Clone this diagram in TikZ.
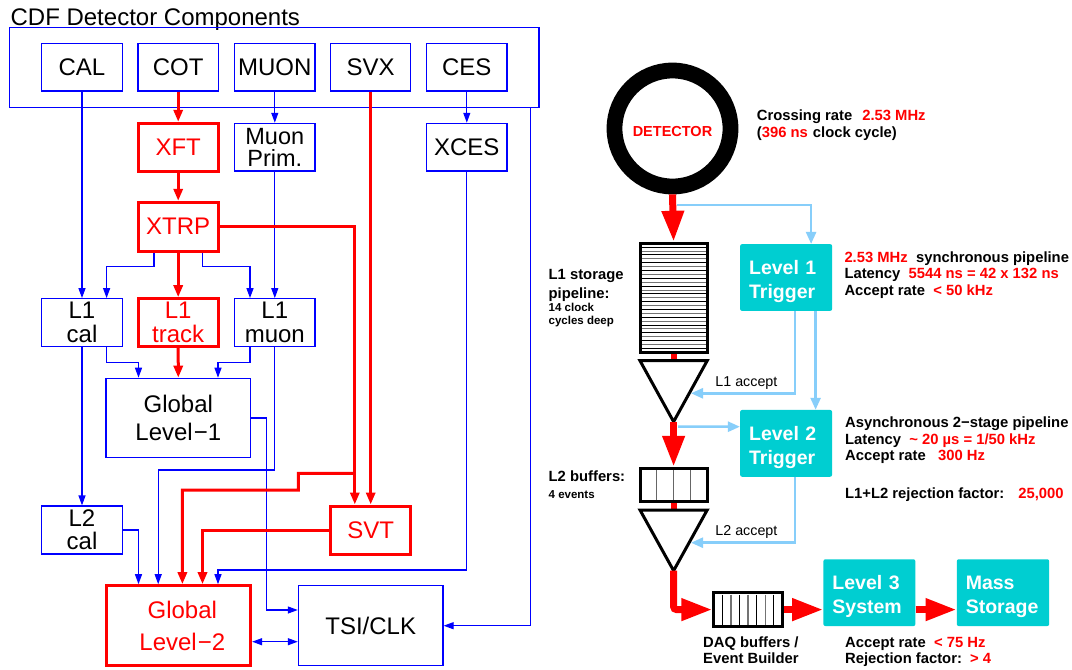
\documentclass[tikz,border=0pt]{standalone}
\usepackage{fontspec}
\setmainfont{Liberation Sans}
\usetikzlibrary{arrows.meta,calc}
\definecolor{cy}{RGB}{0,206,209}
\definecolor{lb}{RGB}{135,206,250}
\begin{document}
\begin{tikzpicture}[x=1pt,y=-1pt,
  bbox/.style={draw=blue, line width=1.2pt, minimum width=80.3pt, minimum height=47.7pt, inner sep=0pt, align=center, font=\fontsize{24}{24}\selectfont},
  rbox/.style={bbox, draw=red, line width=3pt, text=red},
  bl/.style={blue, line width=1.2pt, -{Triangle[length=10pt,width=7pt]}},
  rl/.style={red, line width=3pt, -{Triangle[length=12pt,width=9pt]}},
  lbl/.style={lb, line width=2.5pt, -{Triangle[length=12pt,width=10pt]}},
  bigred/.style={red, line width=7pt, -{Triangle[length=31pt,width=21pt]}},
  trig/.style={fill=cy, rounded corners=2pt, minimum height=66.8pt, text width=74pt, inner xsep=9pt, inner ysep=0pt, align=left, text=white, text depth=19.6pt, font=\bfseries\fontsize{19.5}{23.5}\selectfont},
  bt/.style={font=\bfseries\fontsize{14.8}{16.7}\selectfont, inner sep=0pt, anchor=base west},
  st/.style={font=\bfseries\fontsize{11.5}{12.7}\selectfont, inner sep=0pt, anchor=base west},
  nt/.style={font=\fontsize{14.3}{16}\selectfont, inner sep=0pt, anchor=base west},
  buf/.style={draw=black, line width=3pt, fill=white, inner sep=0pt},
  tri/.style={draw=black, line width=3pt, fill=white, line join=miter}
]
\useasboundingbox (0,0) rectangle (1072,670);
\fill[white] (0,0) rectangle (1072,670);

% ---------------- Left panel ----------------
\node[anchor=base west, inner sep=0pt, font=\fontsize{24}{24}\selectfont] (title) at (10.4,25) {CDF Detector Components};
\node[draw=blue, line width=1.2pt, minimum width=529.3pt, minimum height=79.6pt, inner sep=0pt] (outer) at (274.35,67.5) {};

\node[bbox] (cal)  at (82,67.2)    {CAL};
\node[bbox] (cot)  at (178.2,67.2) {COT};
\node[bbox] (muon) at (274.8,67.2) {MUON};
\node[bbox] (svx)  at (370.7,67.2) {SVX};
\node[bbox] (ces)  at (466.8,67.2) {CES};

\node[rbox] (xft)   at (178.2,147.2) {XFT};
\node[bbox, font=\fontsize{23.5}{21.5}\selectfont] (mprim) at (274.8,147.2) {Muon\\Prim.};
\node[bbox] (xces)  at (466.8,147.2) {XCES};
\node[rbox, minimum height=48.7pt] (xtrp) at (178.2,226.7) {XTRP};

\node[bbox, minimum height=48pt] (l1cal)   at (82,322.7)    {L1\\cal};
\node[rbox, minimum height=48pt] (l1track) at (178.2,322.7) {L1\\track};
\node[bbox, minimum height=48pt] (l1muon)  at (274.8,322.7) {L1\\muon};

\node[bbox, minimum width=144.6pt, minimum height=79.4pt, font=\fontsize{24}{28.3}\selectfont] (gl1) at (178.3,418) {Global\\Level\kern1pt−1};

\node[bbox, minimum height=48pt, font=\fontsize{24}{23.4}\selectfont] (l2cal) at (82,530) {L2\\cal};
\node[rbox, minimum height=48pt] (svt) at (370.7,530) {SVT};

\node[rbox, minimum width=144.6pt, minimum height=80pt, font=\fontsize{24}{31.7}\selectfont] (gl2) at (178.3,625.7) {\hspace*{8pt}Global\\\hspace*{8pt}Level\kern1pt−2};
\node[bbox, minimum width=144.6pt, minimum height=80pt] (tsi) at (370.7,625.7) {TSI/CLK};

% connectors
\draw[rl] (cot.south) -- (xft.north);
\draw[bl] (muon.south) -- (mprim.north);
\draw[bl] (ces.south) -- (xces.north);
\draw[rl] (xft.south) -- (xtrp.north);
\draw[bl] (cal.south) -- (l1cal.north);
\draw[bl] ([xshift=-24.2pt]xtrp.south) |- (106.6,266.7) -- ([xshift=24.6pt]l1cal.north);
\draw[rl] (xtrp.south) -- (l1track.north);
\draw[bl] ([xshift=24.3pt]xtrp.south) |- (250,266.7) -- ([xshift=-24.8pt]l1muon.north);
\draw[bl] (mprim.south) -- (l1muon.north);
\draw[bl] ([xshift=24.6pt]l1cal.south) |- (138.5,362.3) -- ([xshift=-39.8pt]gl1.north);
\draw[rl] (l1track.south) -- (gl1.north);
\draw[bl] ([xshift=-24.8pt]l1muon.south) |- (218,362.3) -- ([xshift=39.7pt]gl1.north);
\draw[bl] (l1cal.south) -- (l2cal.north);
\draw[bl] (l1muon.south) |- (158.2,470) -- ([xshift=-20.1pt]gl2.north);
\draw[bl] (gl1.east) -| (266.5,610) -- ([yshift=15.7pt]tsi.west);
\draw[rl] (xtrp.east) -| ([xshift=-15.9pt]svt.north);
\coordinate (br) at (354.8,473.3);
\draw[rl] (br) -- (298.4,473.3) |- (182.4,490) -- ([xshift=4.1pt]gl2.north);
\draw[rl] (svx.south) -- (svt.north);
\draw[rl] (svt.west) -| ([xshift=24.2pt]gl2.north);
\draw[bl] (l2cal.east) -| ([xshift=-39.8pt]gl2.north);
\draw[bl] (xces.south) |- (218,570) -- ([xshift=39.7pt]gl2.north);
\draw[bl] ([xshift=256.25pt]outer.south) |- (tsi.east);
\draw[bl, {Triangle[length=10pt,width=7pt]}-{Triangle[length=10pt,width=7pt]}] ([yshift=-16pt]gl2.east) -- ([yshift=-16pt]tsi.west);

% ---------------- Right panel ----------------
\node[circle, draw=black, line width=15.8pt, minimum size=116pt, inner sep=0pt, text=red, text height=16.6pt, text depth=0pt, font=\bfseries\fontsize{14.5}{14.5}\selectfont] (det) at (672.5,128.5) {DETECTOR};
\node[bt] (cr1) at (756.7,120.3) {Crossing rate\hspace{10pt}\textcolor{red}{2.53 MHz}};
\node[bt] (cr2) at (756.7,137) {(\textcolor{red}{396 ns}\hspace{5pt}clock cycle)};

% L1 storage pipeline
\node[buf, minimum width=67.2pt, minimum height=109pt] (pipe) at (673.6,297.8) {};
\foreach \i in {1,...,27}{
  \pgfmathsetmacro{\yy}{243.3+\i*109/28}
  \pgfmathsetmacro{\cc}{mod(\i,2)==1 ? 100 : 55}
  \draw[black!\cc, line width=1pt] (641.5,\yy) -- (705.7,\yy);
}
\node[bt] (l1s1) at (548.5,279.1) {L1 storage};
\node[bt] (l1s2) at (548.5,298) {pipeline:};
\node[st] (l1s3) at (548.5,311.4) {14 clock};
\node[st] (l1s4) at (548.5,324.1) {cycles deep};

\draw[bigred] (det.south) -- (pipe.north);
\coordinate (t1top) at (673.6,360.7);
\draw[red, line width=6pt] (pipe.south) -- (t1top);
\coordinate (t1a) at (673.6,421.7);
\draw[tri] (640,360.7) -- (707.2,360.7) -- (t1a) -- cycle;

% Level 1 trigger
\node[trig] (l1trig) at (786.1,277.5) {Level 1\\Trigger};
\draw[lbl] ([shift={(4.5pt,-10.8pt)}]det.south) -| ([xshift=25pt]l1trig.north);
\node[bt] (a1) at (844.3,262) {\textcolor{red}{2.53 MHz}\ \ synchronous pipeline};
\node[bt] (a2) at (844.3,278.6) {Latency\ \ \textcolor{red}{5544 ns = 42 x 132 ns}};
\node[bt] (a3) at (844.3,295.3) {Accept rate\ \ \textcolor{red}{< 50 kHz}};

\coordinate (t1r) at (691,393.3);
\draw[lbl] ([xshift=8.7pt]l1trig.south) |- (t1r);
\node[nt] (acc1) at (715.2,386.1) {L1 accept};

% Level 2 trigger
\node[trig] (l2trig) at (786.1,443.35) {Level 2\\Trigger};
\draw[lbl] ([xshift=29.5pt]l1trig.south) -- ([xshift=29.5pt]l2trig.north);
\draw[lbl] ($(t1a)+(4.5,5)$) -- ([yshift=16.65pt]l2trig.west);
\node[bt] (b1) at (845,427) {Asynchronous 2−stage pipeline};
\node[bt] (b2) at (845,444.3) {Latency\ \ \textcolor{red}{\textasciitilde\ 20 µs = 1/50 kHz}};
\node[bt] (b3) at (845,460.3) {Accept rate\ \ \ \textcolor{red}{300 Hz}};
\node[bt] (b4) at (845,498) {L1+L2 rejection factor:\hspace{14pt}\textcolor{red}{25,000}};

% L2 buffers
\node[buf, minimum width=67.2pt, minimum height=33.4pt] (l2buf) at (673.6,485) {};
\foreach \k in {1,2,3}{
  \draw[black!60, line width=1.2pt] (640+16.8*\k,470) -- (640+16.8*\k,500);
}
\node[bt] (l2b1) at (548.5,481) {L2 buffers:};
\node[st] (l2b2) at (548.5,498.1) {4 events};
\draw[bigred] (t1a) -- (l2buf.north);
\coordinate (t2top) at (673.6,510);
\draw[red, line width=6pt] (l2buf.south) -- (t2top);
\coordinate (t2a) at (673.6,570.7);
\draw[tri] (640,510) -- (707.2,510) -- (t2a) -- cycle;

\coordinate (t2r) at (691,542.7);
\draw[lbl] ([xshift=8.7pt]l2trig.south) |- (t2r);
\node[nt] (acc2) at (715.2,535.1) {L2 accept};

% DAQ buffers
\node[buf, minimum width=68.5pt, minimum height=33.3pt] (daq) at (748.1,609.6) {};
\foreach \k in {1,...,7}{
  \pgfmathsetmacro{\cc}{mod(\k,2)==1 ? 100 : 55}
  \draw[black!\cc, line width=1.2pt] (713.85+8.56*\k,594.5) -- (713.85+8.56*\k,624.7);
}
\draw[bigred, rounded corners=3pt] (t2a) |- (daq.west);
\node[bt] (d1) at (703,647) {DAQ buffers /};
\node[bt] (d2) at (703,663) {Event Builder};

% Level 3 and mass storage
\node[trig, text width=74pt] (l3) at (869.4,592.65) {Level 3\\System};
\node[trig, text width=74.4pt] (mass) at (1003,592.65) {Mass\\Storage};
\draw[bigred] (daq.east) -- (daq.east -| l3.west);
\draw[bigred] (l3.east |- daq.east) -- (mass.west |- daq.east);
\node[bt] (e1) at (845,647) {Accept rate\ \ \textcolor{red}{< 75 Hz}};
\node[bt] (e2) at (845,663) {Rejection factor:\ \ \textcolor{red}{> 4}};
\end{tikzpicture}
\end{document}
